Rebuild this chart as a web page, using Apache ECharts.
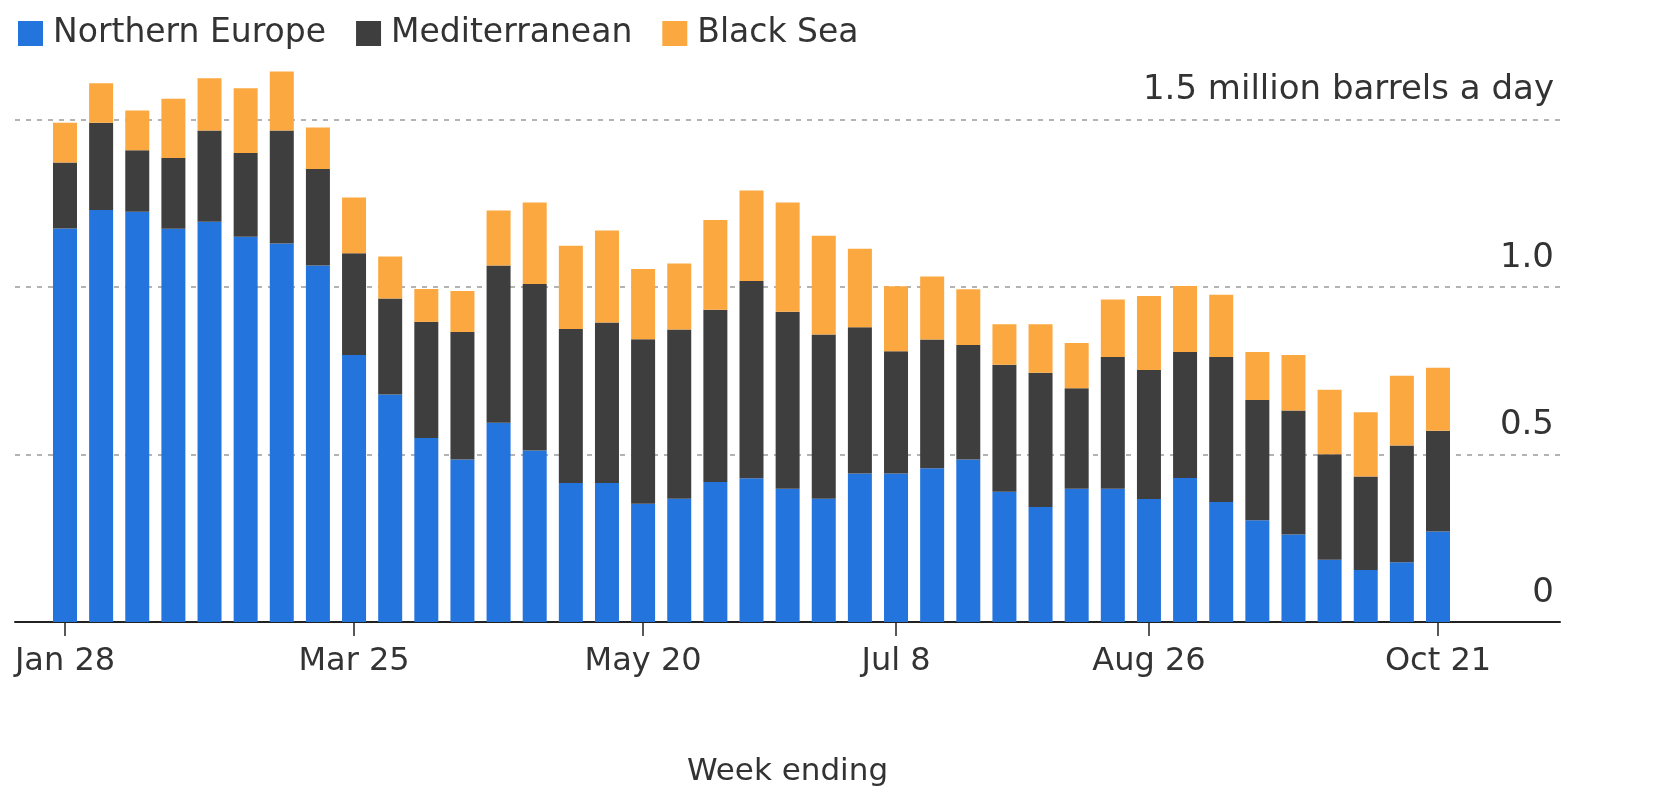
<!DOCTYPE html>
<html>
<head>
<meta charset="utf-8">
<script src="https://cdn.jsdelivr.net/npm/echarts@6/dist/echarts.min.js"></script>
<style>
html,body{margin:0;padding:0;background:#fff;}
#chart{width:1665px;height:792px;}
</style>
</head>
<body>
<div id="chart"></div>
<script>
const categories = ["Jan 28","Feb 4","Feb 11","Feb 18","Feb 25","Mar 4","Mar 11","Mar 18","Mar 25","Apr 1","Apr 8","Apr 15","Apr 22","Apr 29","May 6","May 13","May 20","May 27","Jun 3","Jun 10","Jun 17","Jun 24","Jul 1","Jul 8","Jul 15","Jul 22","Jul 29","Aug 5","Aug 12","Aug 19","Aug 26","Sep 2","Sep 9","Sep 16","Sep 23","Sep 30","Oct 7","Oct 14","Oct 21"];
const northernEurope = [1.175,1.230,1.225,1.174,1.195,1.150,1.130,1.064,0.797,0.679,0.549,0.485,0.595,0.512,0.415,0.415,0.353,0.368,0.418,0.429,0.398,0.368,0.443,0.443,0.459,0.485,0.389,0.343,0.398,0.398,0.367,0.430,0.358,0.304,0.261,0.186,0.155,0.178,0.270];
const mediterranean = [0.197,0.260,0.183,0.211,0.272,0.250,0.337,0.288,0.304,0.287,0.347,0.381,0.469,0.497,0.460,0.479,0.491,0.505,0.514,0.589,0.528,0.490,0.437,0.365,0.384,0.342,0.379,0.401,0.300,0.393,0.385,0.376,0.433,0.359,0.370,0.315,0.279,0.349,0.301];
const blackSea = [0.118,0.118,0.119,0.177,0.156,0.193,0.176,0.124,0.166,0.125,0.098,0.122,0.164,0.243,0.248,0.275,0.210,0.197,0.268,0.270,0.326,0.295,0.234,0.194,0.188,0.166,0.121,0.145,0.135,0.172,0.221,0.197,0.186,0.143,0.166,0.192,0.192,0.208,0.188];
const tickLabels = ["Jan 28", "Mar 25", "May 20", "Jul 8", "Aug 26", "Oct 21"];
const yTickLabels = {0: "0", 0.5: "0.5", 1: "1.0", 1.5: "1.5 million barrels a day"};

const FONT = "DejaVu Sans";
const TEXT = "#333333";
const showTick = (i) => tickLabels.indexOf(categories[i]) !== -1;

const chart = echarts.init(document.getElementById('chart'), null, {renderer: 'canvas'});
chart.setOption({
  animation: false,
  backgroundColor: '#ffffff',
  textStyle: {fontFamily: FONT},
  legend: {
    left: 13, top: 12,
    itemWidth: 25, itemHeight: 25, itemGap: 30,
    icon: 'rect',
    textStyle: {fontFamily: FONT, fontSize: 33, color: TEXT, padding: [0, 0, 0, 5]},
    data: ['Northern Europe', 'Mediterranean', 'Black Sea']
  },
  grid: [
    {left: 15, right: 105, top: 52.5, bottom: 170, containLabel: false},
    {left: 46.93, right: 208.93, top: 52.5, bottom: 170, containLabel: false}
  ],
  xAxis: [
    {
      gridIndex: 0,
      type: 'value', min: 0, max: 1,
      name: 'Week ending',
      nameLocation: 'middle',
      nameGap: 134,
      nameTextStyle: {fontFamily: FONT, fontSize: 31, color: TEXT, verticalAlign: 'top'},
      axisLine: {show: true, onZero: false, lineStyle: {color: '#222', width: 2}},
      axisTick: {show: false},
      axisLabel: {show: false},
      splitLine: {show: false}
    },
    {
      gridIndex: 1,
      type: 'category',
      data: categories,
      boundaryGap: true,
      axisLine: {show: false},
      axisTick: {show: true, alignWithLabel: true, interval: (i) => showTick(i), length: 14, lineStyle: {color: '#222', width: 1.5}},
      axisLabel: {
        interval: (i) => showTick(i),
        margin: 24,
        fontFamily: FONT, fontSize: 32, color: TEXT
      },
      splitLine: {show: false}
    }
  ],
  yAxis: [
    {
      gridIndex: 0,
      type: 'value',
      position: 'right',
      min: 0, max: 1.7, interval: 0.5,
      axisLine: {show: false},
      axisTick: {show: false},
      axisLabel: {
        inside: true,
        margin: 6,
        showMaxLabel: false,
        fontFamily: FONT, fontSize: 34, color: TEXT,
        verticalAlign: 'bottom',
        padding: [0, 0, 12, 0],
        formatter: v => (yTickLabels[v] !== undefined ? yTickLabels[v] : '')
      },
      splitLine: {show: true, showMaxLine: false, lineStyle: {color: '#9a9a9a', width: 1.5, type: [5, 6]}}
    },
    {
      gridIndex: 1,
      type: 'value',
      min: 0, max: 1.7,
      show: false
    }
  ],
  series: [
    {name: 'Northern Europe', type: 'bar', xAxisIndex: 1, yAxisIndex: 1, stack: 'total', barWidth: 24, itemStyle: {color: '#2474DE'}, data: northernEurope},
    {name: 'Mediterranean', type: 'bar', xAxisIndex: 1, yAxisIndex: 1, stack: 'total', barWidth: 24, itemStyle: {color: '#3E3E3E'}, data: mediterranean},
    {name: 'Black Sea', type: 'bar', xAxisIndex: 1, yAxisIndex: 1, stack: 'total', barWidth: 24, itemStyle: {color: '#FCA840'}, data: blackSea}
  ]
});
</script>
</body>
</html>
